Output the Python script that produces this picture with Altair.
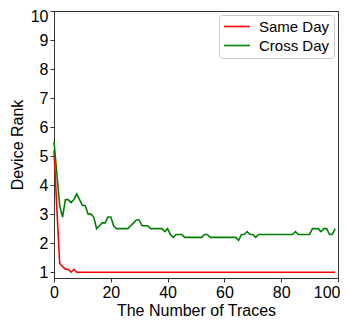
import altair as alt
import pandas as pd

same_day = [5.2, 3.2, 1.3, 1.2, 1.1, 1.1, 1.0, 1.1] + [1.0] * 92
cross_day = [
    5.5, 4.4, 3.3, 2.9, 3.5, 3.5, 3.4, 3.5, 3.7, 3.5,
    3.3, 3.3, 3.0, 3.0, 2.9, 2.5, 2.6, 2.7, 2.7, 2.9,
    2.9, 2.6, 2.5, 2.5, 2.5, 2.5, 2.5, 2.6, 2.7, 2.8,
    2.8, 2.6, 2.6, 2.6, 2.5, 2.5, 2.5, 2.5, 2.5, 2.4,
    2.5, 2.3, 2.2, 2.3, 2.3, 2.3, 2.2, 2.2, 2.2, 2.2,
    2.2, 2.2, 2.2, 2.3, 2.3, 2.2, 2.2, 2.2, 2.2, 2.2,
    2.2, 2.2, 2.2, 2.2, 2.2, 2.1, 2.3, 2.3, 2.4, 2.3,
    2.3, 2.2, 2.3, 2.3, 2.3, 2.3, 2.3, 2.3, 2.3, 2.3,
    2.3, 2.3, 2.3, 2.3, 2.3, 2.4, 2.3, 2.3, 2.3, 2.3,
    2.3, 2.5, 2.5, 2.5, 2.4, 2.5, 2.5, 2.3, 2.3, 2.5,
]
series_names = ["Same Day", "Cross Day"]
series_colors = ["#ff0000", "#008000"]
x_ticks = [0, 20, 40, 60, 80, 100]
y_ticks = [1, 2, 3, 4, 5, 6, 7, 8, 9, 10]

rows = []
for i, v in enumerate(same_day):
    rows.append({"traces": i, "rank": v, "series": "Same Day"})
for i, v in enumerate(cross_day):
    rows.append({"traces": i, "rank": v, "series": "Cross Day"})
df = pd.DataFrame(rows)

font = "Liberation Sans"

chart = alt.Chart(df).mark_line(strokeWidth=1.6).encode(
    x=alt.X("traces:Q", title="The Number of Traces",
            scale=alt.Scale(domain=[0, 100], nice=False),
            axis=alt.Axis(values=x_ticks, grid=False, tickSize=4, labelFontSize=16,
                          titleFontSize=16, titleFontWeight="normal", labelColor="black",
                          titleColor="black", domainColor="#333", tickColor="#333",
                          labelFont=font, titleFont=font, titlePadding=2, labelPadding=2,
                          labelFlush=False,
                          labelAlign={"condition": {"test": "datum.value == 100", "value": "right"}, "value": "center"},
                          labelOffset={"condition": {"test": "datum.value == 100", "value": 2}, "value": 0})),
    y=alt.Y("rank:Q", title="Device Rank",
            scale=alt.Scale(domain=[0.8, 10], nice=False, zero=False),
            axis=alt.Axis(values=y_ticks, grid=False, tickSize=4, labelFontSize=16,
                          titleFontSize=16, titleFontWeight="normal", labelColor="black",
                          titleColor="black", domainColor="#333", tickColor="#333",
                          labelFont=font, titleFont=font, titlePadding=5, labelPadding=2,
                          labelFlush=False,
                          labelOffset={"condition": {"test": "datum.value == 10", "value": 5}, "value": 0})),
    color=alt.Color("series:N", sort=series_names,
                    scale=alt.Scale(domain=series_names, range=series_colors),
                    legend=alt.Legend(title=None, orient="top-right", offset=4,
                                      symbolType="M-1,0H3", symbolSize=170, symbolStrokeWidth=1.6,
                                      labelFontSize=15, labelFont=font, labelColor="black",
                                      labelOffset=21,
                                      strokeColor="#cccccc", cornerRadius=3, padding=4,
                                      fillColor="white", rowPadding=3)),
    order=alt.Order("traces:Q"),
).properties(
    width=284, height=267,
    autosize=alt.AutoSizeParams(type="none"),
    padding={"left": 46, "top": 3, "right": 2, "bottom": 40},
).configure_view(stroke="#333", strokeWidth=1)

chart.save("out.html", embed_options={"renderer": "svg", "actions": False})
